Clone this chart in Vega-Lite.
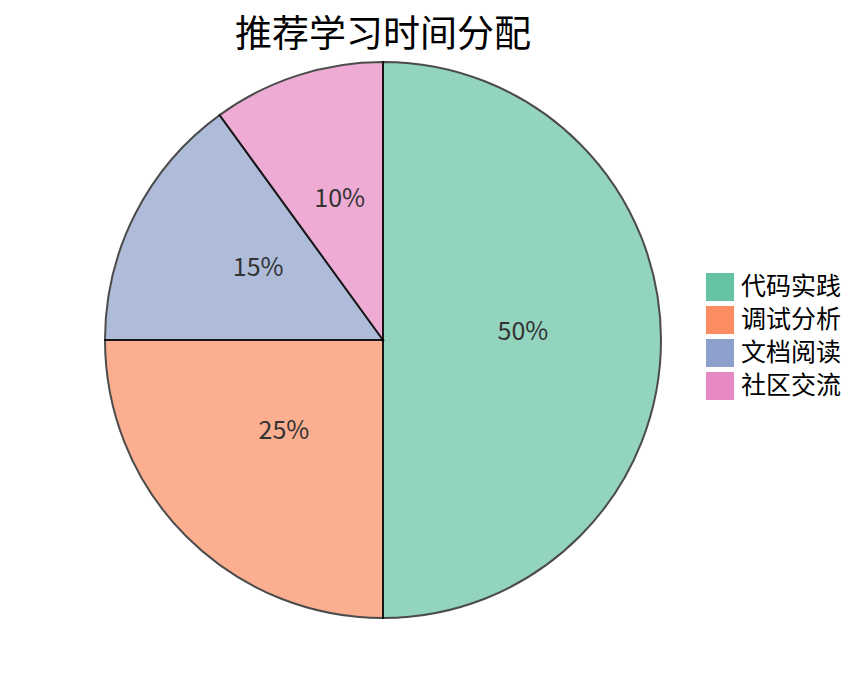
{
  "$schema": "https://vega.github.io/schema/vega-lite/v6.json",
  "width": 556,
  "height": 556,
  "autosize": "none",
  "padding": {"left": 105, "top": 62, "right": 194, "bottom": 63},
  "background": "white",
  "title": {
    "text": "推荐学习时间分配",
    "font": "Noto Sans CJK SC",
    "fontSize": 37,
    "fontWeight": "normal",
    "color": "#000",
    "anchor": "middle",
    "offset": 3
  },
  "data": {
    "values": [
      {"cat": "代码实践", "value": 50, "pct": "50%", "idx": 1},
      {"cat": "调试分析", "value": 25, "pct": "25%", "idx": 2},
      {"cat": "文档阅读", "value": 15, "pct": "15%", "idx": 3},
      {"cat": "社区交流", "value": 10, "pct": "10%", "idx": 4}
    ]
  },
  "encoding": {
    "theta": {"field": "value", "type": "quantitative", "stack": true},
    "order": {"field": "idx", "type": "quantitative"}
  },
  "layer": [
    {
      "mark": {"type": "arc", "outerRadius": 278, "stroke": "black", "strokeWidth": 2, "opacity": 0.7},
      "encoding": {
        "color": {
          "field": "cat",
          "type": "nominal",
          "sort": ["代码实践", "调试分析", "文档阅读", "社区交流"],
          "scale": {"range": ["#66c2a5", "#fc8d62", "#8da0cb", "#e78ac3"]},
          "legend": {
            "title": null,
            "orient": "none",
            "legendX": 601,
            "legendY": 211,
            "symbolType": "square",
            "symbolSize": 784,
            "symbolOpacity": 1,
            "symbolStrokeWidth": 0,
            "labelFont": "Noto Sans CJK SC",
            "labelFontSize": 25,
            "labelColor": "#000",
            "labelOffset": 7,
            "rowPadding": 5
          }
        }
      }
    },
    {
      "mark": {"type": "text", "radius": 140, "dy": -8, "font": "Noto Sans CJK SC", "fontSize": 25, "fill": "#333"},
      "encoding": {"text": {"field": "pct", "type": "nominal"}}
    }
  ]
}
